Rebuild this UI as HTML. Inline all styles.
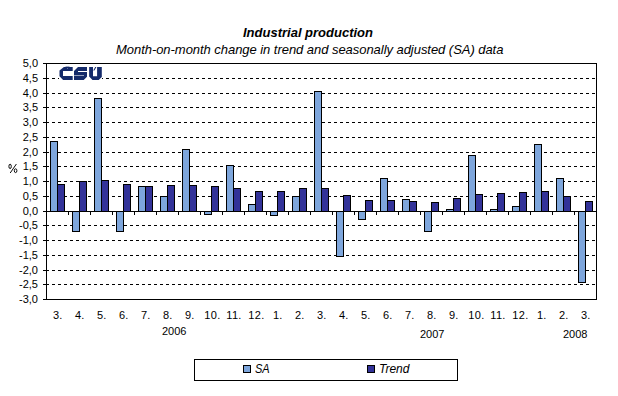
<!DOCTYPE html>
<html><head><meta charset="utf-8"><style>
html,body{margin:0;padding:0;background:#fff;}
body{width:618px;height:396px;position:relative;overflow:hidden;font-family:"Liberation Sans",sans-serif;color:#000;}
svg{position:absolute;left:0;top:0;}
.a{position:absolute;white-space:nowrap;line-height:1;}
.yl{position:absolute;right:580px;font-size:11px;line-height:12px;white-space:nowrap;}
.xl{position:absolute;width:30px;text-align:center;font-size:11px;line-height:12px;top:309px;}
.xl2{position:absolute;white-space:nowrap;font-size:11px;line-height:12px;top:309px;}
</style></head><body>
<svg width="618" height="396" viewBox="0 0 618 396" shape-rendering="crispEdges">
<line x1="46" y1="78.5" x2="596" y2="78.5" stroke="#000" stroke-width="1" stroke-dasharray="3 3"/><line x1="46" y1="93.5" x2="596" y2="93.5" stroke="#000" stroke-width="1" stroke-dasharray="3 3"/><line x1="46" y1="107.5" x2="596" y2="107.5" stroke="#000" stroke-width="1" stroke-dasharray="3 3"/><line x1="46" y1="122.5" x2="596" y2="122.5" stroke="#000" stroke-width="1" stroke-dasharray="3 3"/><line x1="46" y1="137.5" x2="596" y2="137.5" stroke="#000" stroke-width="1" stroke-dasharray="3 3"/><line x1="46" y1="152.5" x2="596" y2="152.5" stroke="#000" stroke-width="1" stroke-dasharray="3 3"/><line x1="46" y1="166.5" x2="596" y2="166.5" stroke="#000" stroke-width="1" stroke-dasharray="3 3"/><line x1="46" y1="181.5" x2="596" y2="181.5" stroke="#000" stroke-width="1" stroke-dasharray="3 3"/><line x1="46" y1="196.5" x2="596" y2="196.5" stroke="#000" stroke-width="1" stroke-dasharray="3 3"/><line x1="46" y1="225.5" x2="596" y2="225.5" stroke="#000" stroke-width="1" stroke-dasharray="3 3"/><line x1="46" y1="240.5" x2="596" y2="240.5" stroke="#000" stroke-width="1" stroke-dasharray="3 3"/><line x1="46" y1="255.5" x2="596" y2="255.5" stroke="#000" stroke-width="1" stroke-dasharray="3 3"/><line x1="46" y1="270.5" x2="596" y2="270.5" stroke="#000" stroke-width="1" stroke-dasharray="3 3"/><line x1="46" y1="284.5" x2="596" y2="284.5" stroke="#000" stroke-width="1" stroke-dasharray="3 3"/><g fill="#142a6a" shape-rendering="geometricPrecision">
<rect x="59" y="66" width="43" height="14" fill="#fff" shape-rendering="crispEdges"/>
<path d="M63.9,67 H72.7 V71 H63 V76 H72.7 V80 H63.1 L59.5,76.3 V70.6 Z"/>
<path d="M65,66 H70 L67.5,68.5 Z" opacity="0.4"/>
<rect x="67" y="68" width="1" height="1" fill="#fff" opacity="0.35" shape-rendering="crispEdges"/>
<path d="M78,67 H87 V71 H78 V72 H87 V76.7 L83.7,80 H74 V71 Z"/>
<rect x="74" y="75" width="10" height="1" fill="#fff" opacity="0.55" shape-rendering="crispEdges"/>
<path d="M89.15,67 H93 V76.2 H97.1 V67 H101.8 V76.9 L98.7,80 H92.5 L89.15,76.6 Z"/>
<path d="M93.2,70.6 L94.4,70.6 L96.4,67 L95.2,67 Z"/>
</g><g shape-rendering="geometricPrecision" fill="none" stroke="#000" stroke-width="0.95"><ellipse cx="10.1" cy="166.4" rx="1.2" ry="2.2"/><ellipse cx="15.6" cy="170.7" rx="1.3" ry="1.9"/><path d="M16.4,164 L10.2,173"/></g><rect x="50" y="141" width="8" height="71" fill="#000"/><rect x="51" y="142" width="6" height="69" fill="#7ea6dc"/><rect x="57" y="184" width="8" height="28" fill="#000"/><rect x="58" y="185" width="6" height="26" fill="#333399"/><rect x="72" y="211" width="8" height="21" fill="#000"/><rect x="73" y="212" width="6" height="19" fill="#7ea6dc"/><rect x="79" y="181" width="8" height="31" fill="#000"/><rect x="80" y="182" width="6" height="29" fill="#333399"/><rect x="94" y="98" width="8" height="114" fill="#000"/><rect x="95" y="99" width="6" height="112" fill="#7ea6dc"/><rect x="101" y="180" width="8" height="32" fill="#000"/><rect x="102" y="181" width="6" height="30" fill="#333399"/><rect x="116" y="211" width="8" height="21" fill="#000"/><rect x="117" y="212" width="6" height="19" fill="#7ea6dc"/><rect x="123" y="184" width="8" height="28" fill="#000"/><rect x="124" y="185" width="6" height="26" fill="#333399"/><rect x="138" y="186" width="8" height="26" fill="#000"/><rect x="139" y="187" width="6" height="24" fill="#7ea6dc"/><rect x="145" y="186" width="8" height="26" fill="#000"/><rect x="146" y="187" width="6" height="24" fill="#333399"/><rect x="160" y="196" width="8" height="16" fill="#000"/><rect x="161" y="197" width="6" height="14" fill="#7ea6dc"/><rect x="167" y="185" width="8" height="27" fill="#000"/><rect x="168" y="186" width="6" height="25" fill="#333399"/><rect x="182" y="149" width="8" height="63" fill="#000"/><rect x="183" y="150" width="6" height="61" fill="#7ea6dc"/><rect x="189" y="185" width="8" height="27" fill="#000"/><rect x="190" y="186" width="6" height="25" fill="#333399"/><rect x="204" y="211" width="8" height="4" fill="#000"/><rect x="205" y="212" width="6" height="2" fill="#7ea6dc"/><rect x="211" y="186" width="8" height="26" fill="#000"/><rect x="212" y="187" width="6" height="24" fill="#333399"/><rect x="226" y="165" width="8" height="47" fill="#000"/><rect x="227" y="166" width="6" height="45" fill="#7ea6dc"/><rect x="233" y="188" width="8" height="24" fill="#000"/><rect x="234" y="189" width="6" height="22" fill="#333399"/><rect x="248" y="204" width="8" height="8" fill="#000"/><rect x="249" y="205" width="6" height="6" fill="#7ea6dc"/><rect x="255" y="191" width="8" height="21" fill="#000"/><rect x="256" y="192" width="6" height="19" fill="#333399"/><rect x="270" y="211" width="8" height="5" fill="#000"/><rect x="271" y="212" width="6" height="3" fill="#7ea6dc"/><rect x="277" y="191" width="8" height="21" fill="#000"/><rect x="278" y="192" width="6" height="19" fill="#333399"/><rect x="292" y="196" width="8" height="16" fill="#000"/><rect x="293" y="197" width="6" height="14" fill="#7ea6dc"/><rect x="299" y="188" width="8" height="24" fill="#000"/><rect x="300" y="189" width="6" height="22" fill="#333399"/><rect x="314" y="91" width="8" height="121" fill="#000"/><rect x="315" y="92" width="6" height="119" fill="#7ea6dc"/><rect x="321" y="188" width="8" height="24" fill="#000"/><rect x="322" y="189" width="6" height="22" fill="#333399"/><rect x="336" y="211" width="8" height="46" fill="#000"/><rect x="337" y="212" width="6" height="44" fill="#7ea6dc"/><rect x="343" y="195" width="8" height="17" fill="#000"/><rect x="344" y="196" width="6" height="15" fill="#333399"/><rect x="358" y="211" width="8" height="9" fill="#000"/><rect x="359" y="212" width="6" height="7" fill="#7ea6dc"/><rect x="365" y="200" width="8" height="12" fill="#000"/><rect x="366" y="201" width="6" height="10" fill="#333399"/><rect x="380" y="178" width="8" height="34" fill="#000"/><rect x="381" y="179" width="6" height="32" fill="#7ea6dc"/><rect x="387" y="200" width="8" height="12" fill="#000"/><rect x="388" y="201" width="6" height="10" fill="#333399"/><rect x="402" y="199" width="8" height="13" fill="#000"/><rect x="403" y="200" width="6" height="11" fill="#7ea6dc"/><rect x="409" y="201" width="8" height="11" fill="#000"/><rect x="410" y="202" width="6" height="9" fill="#333399"/><rect x="424" y="211" width="8" height="21" fill="#000"/><rect x="425" y="212" width="6" height="19" fill="#7ea6dc"/><rect x="431" y="202" width="8" height="10" fill="#000"/><rect x="432" y="203" width="6" height="8" fill="#333399"/><rect x="446" y="209" width="8" height="3" fill="#000"/><rect x="447" y="210" width="6" height="1" fill="#7ea6dc"/><rect x="453" y="198" width="8" height="14" fill="#000"/><rect x="454" y="199" width="6" height="12" fill="#333399"/><rect x="468" y="155" width="8" height="57" fill="#000"/><rect x="469" y="156" width="6" height="55" fill="#7ea6dc"/><rect x="475" y="194" width="8" height="18" fill="#000"/><rect x="476" y="195" width="6" height="16" fill="#333399"/><rect x="490" y="209" width="8" height="3" fill="#000"/><rect x="491" y="210" width="6" height="1" fill="#7ea6dc"/><rect x="497" y="193" width="8" height="19" fill="#000"/><rect x="498" y="194" width="6" height="17" fill="#333399"/><rect x="512" y="206" width="8" height="6" fill="#000"/><rect x="513" y="207" width="6" height="4" fill="#7ea6dc"/><rect x="519" y="192" width="8" height="20" fill="#000"/><rect x="520" y="193" width="6" height="18" fill="#333399"/><rect x="534" y="144" width="8" height="68" fill="#000"/><rect x="535" y="145" width="6" height="66" fill="#7ea6dc"/><rect x="541" y="191" width="8" height="21" fill="#000"/><rect x="542" y="192" width="6" height="19" fill="#333399"/><rect x="556" y="178" width="8" height="34" fill="#000"/><rect x="557" y="179" width="6" height="32" fill="#7ea6dc"/><rect x="563" y="196" width="8" height="16" fill="#000"/><rect x="564" y="197" width="6" height="14" fill="#333399"/><rect x="578" y="211" width="8" height="72" fill="#000"/><rect x="579" y="212" width="6" height="70" fill="#7ea6dc"/><rect x="585" y="201" width="8" height="11" fill="#000"/><rect x="586" y="202" width="6" height="9" fill="#333399"/><rect x="46" y="211" width="551" height="1" fill="#000"/><rect x="46" y="63" width="551" height="1" fill="#000"/><rect x="46" y="299" width="551" height="1" fill="#000"/><rect x="46" y="63" width="1" height="237" fill="#000"/><rect x="596" y="63" width="1" height="237" fill="#000"/><rect x="43" y="63" width="3" height="1" fill="#000"/><rect x="43" y="78" width="3" height="1" fill="#000"/><rect x="43" y="93" width="3" height="1" fill="#000"/><rect x="43" y="107" width="3" height="1" fill="#000"/><rect x="43" y="122" width="3" height="1" fill="#000"/><rect x="43" y="137" width="3" height="1" fill="#000"/><rect x="43" y="152" width="3" height="1" fill="#000"/><rect x="43" y="166" width="3" height="1" fill="#000"/><rect x="43" y="181" width="3" height="1" fill="#000"/><rect x="43" y="196" width="3" height="1" fill="#000"/><rect x="43" y="211" width="3" height="1" fill="#000"/><rect x="43" y="225" width="3" height="1" fill="#000"/><rect x="43" y="240" width="3" height="1" fill="#000"/><rect x="43" y="255" width="3" height="1" fill="#000"/><rect x="43" y="270" width="3" height="1" fill="#000"/><rect x="43" y="284" width="3" height="1" fill="#000"/><rect x="43" y="299" width="3" height="1" fill="#000"/><rect x="68" y="212" width="1" height="3" fill="#000"/><rect x="90" y="212" width="1" height="3" fill="#000"/><rect x="112" y="212" width="1" height="3" fill="#000"/><rect x="134" y="212" width="1" height="3" fill="#000"/><rect x="156" y="212" width="1" height="3" fill="#000"/><rect x="178" y="212" width="1" height="3" fill="#000"/><rect x="200" y="212" width="1" height="3" fill="#000"/><rect x="222" y="212" width="1" height="3" fill="#000"/><rect x="244" y="212" width="1" height="3" fill="#000"/><rect x="266" y="212" width="1" height="3" fill="#000"/><rect x="288" y="212" width="1" height="3" fill="#000"/><rect x="310" y="212" width="1" height="3" fill="#000"/><rect x="332" y="212" width="1" height="3" fill="#000"/><rect x="354" y="212" width="1" height="3" fill="#000"/><rect x="376" y="212" width="1" height="3" fill="#000"/><rect x="398" y="212" width="1" height="3" fill="#000"/><rect x="420" y="212" width="1" height="3" fill="#000"/><rect x="442" y="212" width="1" height="3" fill="#000"/><rect x="464" y="212" width="1" height="3" fill="#000"/><rect x="486" y="212" width="1" height="3" fill="#000"/><rect x="508" y="212" width="1" height="3" fill="#000"/><rect x="530" y="212" width="1" height="3" fill="#000"/><rect x="552" y="212" width="1" height="3" fill="#000"/><rect x="574" y="212" width="1" height="3" fill="#000"/><rect x="194.5" y="359.5" width="263" height="21" fill="#fff" stroke="#000" stroke-width="1"/><rect x="243" y="365" width="8" height="8" fill="#000"/><rect x="244" y="366" width="6" height="6" fill="#7ea6dc"/><rect x="367" y="365" width="8" height="8" fill="#000"/><rect x="368" y="366" width="6" height="6" fill="#333399"/>
</svg>
<div class="a" style="left:243px;top:26px;font-size:13px;font-weight:bold;font-style:italic;">Industrial production</div>
<div class="a" style="left:116px;top:43px;font-size:13px;font-style:italic;letter-spacing:-0.045px;">Month-on-month change in trend and seasonally adjusted (SA) data</div>
<div class="yl" style="top:57px">5,0</div>
<div class="yl" style="top:72px">4,5</div>
<div class="yl" style="top:87px">4,0</div>
<div class="yl" style="top:101px">3,5</div>
<div class="yl" style="top:116px">3,0</div>
<div class="yl" style="top:131px">2,5</div>
<div class="yl" style="top:146px">2,0</div>
<div class="yl" style="top:160px">1,5</div>
<div class="yl" style="top:175px">1,0</div>
<div class="yl" style="top:190px">0,5</div>
<div class="yl" style="top:205px">0,0</div>
<div class="yl" style="top:219px">-0,5</div>
<div class="yl" style="top:234px">-1,0</div>
<div class="yl" style="top:249px">-1,5</div>
<div class="yl" style="top:264px">-2,0</div>
<div class="yl" style="top:278px">-2,5</div>
<div class="yl" style="top:293px">-3,0</div>
<div class="xl2" style="left:52.90px;letter-spacing:0.3px">3.</div>
<div class="xl2" style="left:74.90px;letter-spacing:0.3px">4.</div>
<div class="xl2" style="left:96.90px;letter-spacing:0.3px">5.</div>
<div class="xl2" style="left:118.90px;letter-spacing:0.3px">6.</div>
<div class="xl2" style="left:140.90px;letter-spacing:0.3px">7.</div>
<div class="xl2" style="left:162.90px;letter-spacing:0.3px">8.</div>
<div class="xl2" style="left:184.90px;letter-spacing:0.3px">9.</div>
<div class="xl2" style="left:204.35px;letter-spacing:0.3px">10.</div>
<div class="xl2" style="left:226.35px;letter-spacing:0.3px">11.</div>
<div class="xl2" style="left:248.35px;letter-spacing:0.3px">12.</div>
<div class="xl2" style="left:272.90px;letter-spacing:0.3px">1.</div>
<div class="xl2" style="left:294.90px;letter-spacing:0.3px">2.</div>
<div class="xl2" style="left:316.90px;letter-spacing:0.3px">3.</div>
<div class="xl2" style="left:338.90px;letter-spacing:0.3px">4.</div>
<div class="xl2" style="left:360.90px;letter-spacing:0.3px">5.</div>
<div class="xl2" style="left:382.90px;letter-spacing:0.3px">6.</div>
<div class="xl2" style="left:404.90px;letter-spacing:0.3px">7.</div>
<div class="xl2" style="left:426.90px;letter-spacing:0.3px">8.</div>
<div class="xl2" style="left:448.90px;letter-spacing:0.3px">9.</div>
<div class="xl2" style="left:468.35px;letter-spacing:0.3px">10.</div>
<div class="xl2" style="left:490.35px;letter-spacing:0.3px">11.</div>
<div class="xl2" style="left:512.35px;letter-spacing:0.3px">12.</div>
<div class="xl2" style="left:536.90px;letter-spacing:0.3px">1.</div>
<div class="xl2" style="left:558.90px;letter-spacing:0.3px">2.</div>
<div class="xl2" style="left:580.90px;letter-spacing:0.3px">3.</div>
<div class="a" style="left:162px;top:326px;font-size:11px;">2006</div>
<div class="a" style="left:420px;top:329px;font-size:11px;">2007</div>
<div class="a" style="left:563px;top:329px;font-size:11px;">2008</div>
<div class="a" style="left:255px;top:363px;font-size:12px;font-style:italic;transform:scaleX(0.92);transform-origin:0 0;">SA</div>
<div class="a" style="left:379px;top:363px;font-size:12px;font-style:italic;">Trend</div>
</body></html>
